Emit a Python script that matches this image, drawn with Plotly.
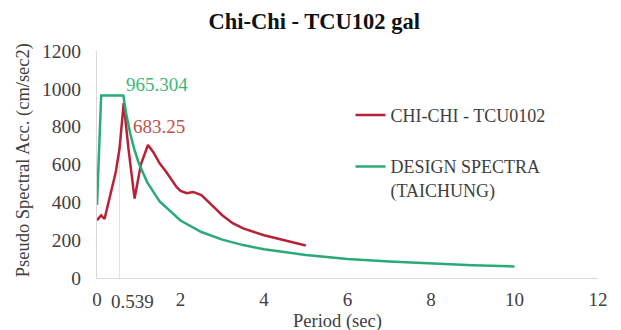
import plotly.graph_objects as go

# Data
record_T = [0.0, 0.1, 0.18, 0.3, 0.34, 0.38, 0.45, 0.539, 0.6, 0.64, 0.75, 0.9, 1.05, 1.22, 1.35, 1.5, 1.66, 1.9, 2.0, 2.15, 2.3, 2.5, 2.75, 3.0, 3.25, 3.5, 4.0, 4.5, 5.0]
record_Sa = [305, 331, 312, 420, 447, 482, 560, 683.25, 860, 925, 690, 420, 600, 703, 665, 606, 560, 482, 460, 448, 455, 438, 385, 332, 290, 262, 226, 200, 172]

design_T = [0.0, 0.1, 0.63, 0.7, 0.8, 0.9, 1.0, 1.2, 1.5, 2.0, 2.5, 3.0, 3.5, 4.0, 5.0, 6.0, 7.0, 8.0, 9.0, 10.0]
design_Sa = [386, 965.304, 965.304, 868, 760, 676, 608, 507, 405, 304, 243, 203, 174, 152, 122, 101, 87, 76, 68, 61]

x_tickvals = [0, 2, 4, 6, 8, 10, 12]
x_ticktext = ["0", "2", "4", "6", "8", "10", "12"]
y_tickvals = [0, 200, 400, 600, 800, 1000, 1200]

marker_T = 0.539
marker_label = "0.539"
record_label = "683.25"
design_label = "965.304"

SERIF = "Liberation Serif"
RED = "#b82238"
GREEN = "#2aaa78"
TXT = "#404040"

fig = go.Figure()
fig.add_trace(go.Scatter(x=record_T, y=record_Sa, mode="lines", name="CHI-CHI - TCU0102",
                         line=dict(color=RED, width=2.5), legendgroup="a"))
fig.add_trace(go.Scatter(x=design_T, y=design_Sa, mode="lines", name="DESIGN SPECTRA<br>(TAICHUNG)",
                         line=dict(color=GREEN, width=2.5), legendgroup="b"))

fig.add_shape(type="line", x0=marker_T, x1=marker_T, y0=0, y1=float(record_label),
              line=dict(color="rgba(225,210,150,0.6)", width=1), layer="below")

fig.add_annotation(x=marker_T, y=float(design_label), text=design_label, showarrow=False,
                   xanchor="left", yanchor="bottom", xshift=4, yshift=-2,
                   font=dict(family=SERIF, size=19, color="#3cb878"))
fig.add_annotation(x=marker_T, y=float(record_label), text=record_label, showarrow=False,
                   xanchor="left", yanchor="bottom", xshift=11, yshift=10,
                   font=dict(family=SERIF, size=19, color="#c0504d"))
fig.add_annotation(x=marker_T, y=0, yref="y", text=marker_label, showarrow=False,
                   xanchor="left", yanchor="middle", xshift=-11, yshift=-23,
                   font=dict(family=SERIF, size=19, color=TXT))

fig.add_annotation(x=0.48, y=-0.193, xref="paper", yref="paper", text="Period (sec)", showarrow=False,
                   xanchor="center", yanchor="middle",
                   font=dict(family=SERIF, size=18.5, color=TXT))
fig.add_annotation(x=-0.145, y=0.52, xref="paper", yref="paper", text="Pseudo Spectral Acc. (cm/sec2)",
                   showarrow=False, textangle=-90, xanchor="center", yanchor="middle",
                   font=dict(family=SERIF, size=18.5, color=TXT))

fig.update_layout(
    width=621, height=330,
    margin=dict(l=97, r=23, t=51, b=52),
    paper_bgcolor="white", plot_bgcolor="white",
    title=dict(text="<b>Chi-Chi - TCU102 gal</b>", x=0.506, xanchor="center", y=0.935, yanchor="middle",
               yref="container", font=dict(family=SERIF, size=22.5, color="#111111")),
    font=dict(family=SERIF, size=18, color=TXT),
    xaxis=dict(range=[0, 12], tickvals=x_tickvals, ticktext=x_ticktext, showgrid=False, zeroline=False,
               showline=True, linecolor="#d9d9d9", linewidth=1, ticks="", ticklabelstandoff=4,
               tickfont=dict(family=SERIF, size=19, color=TXT)),
    yaxis=dict(range=[0, 1200], tickvals=y_tickvals, showgrid=False, zeroline=False,
               showline=True, linecolor="#d9d9d9", linewidth=1, ticks="", ticklabelstandoff=11,
               tickfont=dict(family=SERIF, size=19.5, color=TXT)),
    showlegend=True,
    legend=dict(x=0.506, y=0.798, xanchor="left", yanchor="top", bgcolor="rgba(0,0,0,0)",
                traceorder="grouped", tracegroupgap=25, valign="top",
                font=dict(family=SERIF, size=18, color=TXT)),
)

fig.write_html("out.html")
